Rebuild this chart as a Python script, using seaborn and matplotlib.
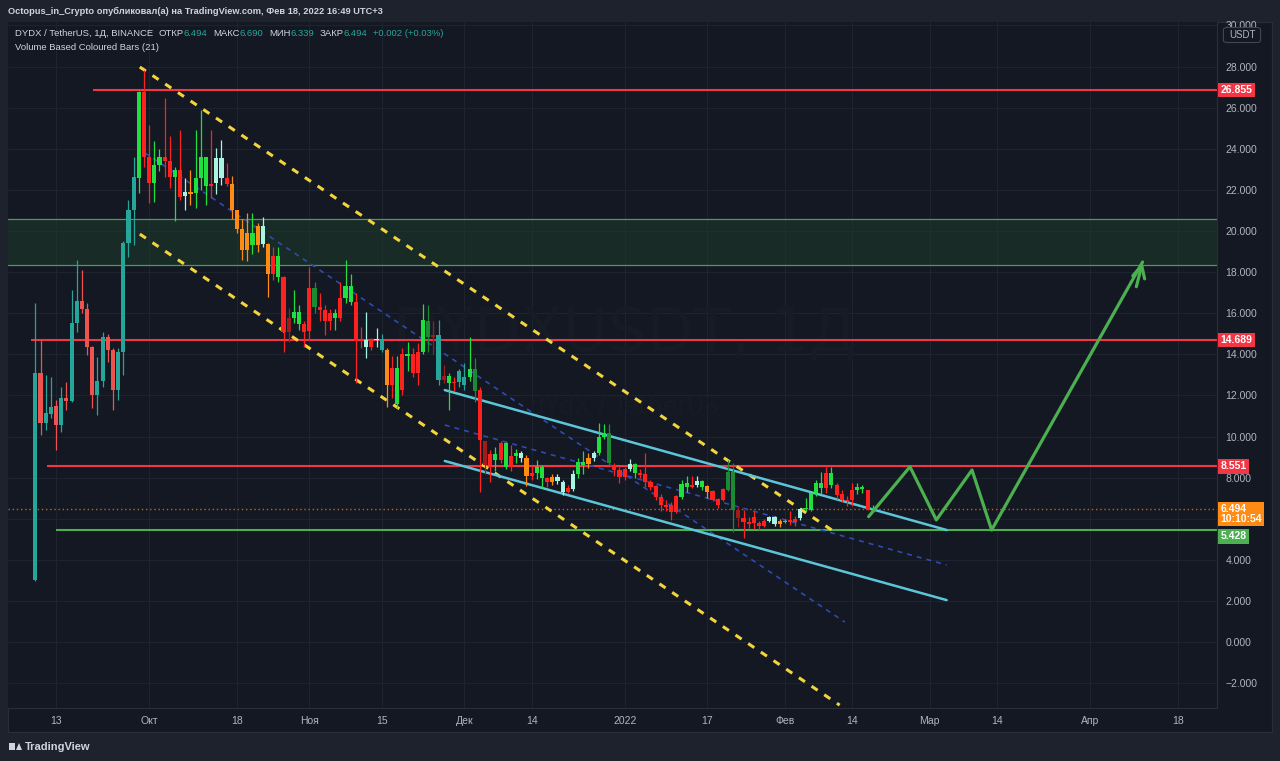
import matplotlib
matplotlib.use('Agg')
import matplotlib.pyplot as plt
import matplotlib.transforms as mtransforms
from matplotlib.patches import Rectangle, FancyBboxPatch
import numpy as np
import pandas as pd
import seaborn as sns

# daily candles DYDX/USDT from 2021-09-09
opens = [3.0, 13.1, 10.64, 11.1, 11.5, 10.56, 11.86, 11.75, 15.5, 16.6,
         16.2, 14.37, 12.0, 12.72, 14.83, 14.2, 12.26, 14.13, 19.4, 21.0,
         22.6, 26.75, 23.6, 22.32, 23.2, 23.6, 23.4, 22.64, 22.97, 21.7,
         21.9, 21.83, 22.56, 23.6, 22.2, 22.32, 23.57, 22.56, 22.27, 21.0,
         20.08, 19.1, 19.9, 19.32, 20.26, 19.35, 17.89, 18.78, 17.78, 15.07,
         15.75, 16.04, 15.46, 15.13, 17.21, 16.3, 16.16, 15.6, 16.0, 15.76,
         16.75, 17.3, 16.56, 14.65, 14.7, 14.37, 14.7, 14.75, 14.21, 12.5,
         13.35, 12.26, 14.0, 14.0, 13.08, 14.1, 15.6, 14.86, 14.93, 12.75,
         12.95, 12.6, 12.65, 12.5, 12.9, 13.28, 12.26, 9.78, 8.61, 9.15,
         8.86, 9.67, 8.53, 9.05, 9.2, 8.94, 8.08, 8.24, 8.53, 7.97,
         7.8, 7.85, 7.8, 7.31, 7.43, 8.18, 8.77, 8.65, 8.94, 9.18,
         10.0, 10.15, 8.61, 8.37, 8.05, 8.4, 8.66, 8.24, 8.2, 7.8,
         7.59, 7.04, 6.67, 6.67, 6.34, 7.04, 7.72, 7.56, 7.62, 7.83,
         7.59, 7.36, 6.94, 6.91, 7.4, 8.29, 6.42, 6.02, 5.85, 6.07,
         5.8, 5.64, 5.87, 6.07, 5.72, 5.9, 5.92, 5.82, 6.02, 6.46,
         6.42, 7.24, 7.72, 7.48, 8.21, 7.64, 7.18, 6.93, 6.91, 7.4,
         7.56, 7.4, 6.494]
highs = [16.5, 14.7, 13.0, 12.9, 11.78, 12.42, 12.67, 17.13, 18.59, 18.1,
         16.48, 14.4, 13.88, 15.1, 15.0, 14.3, 14.3, 19.5, 21.5, 23.6,
         26.8, 27.83, 25.16, 24.4, 24.0, 26.46, 24.6, 23.1, 24.9, 22.56,
         22.97, 24.9, 25.9, 23.6, 24.9, 24.02, 24.43, 23.3, 22.7, 21.0,
         20.6, 20.9, 20.9, 20.4, 20.7, 19.4, 19.2, 19.2, 17.8, 16.24,
         17.13, 16.4, 15.6, 18.26, 17.5, 16.97, 16.4, 16.2, 16.2, 17.53,
         18.59, 17.9, 17.0, 15.34, 16.07, 14.8, 15.3, 15.0, 14.3, 13.9,
         13.9, 14.3, 14.6, 14.3, 14.54, 16.43, 16.4, 15.6, 15.65, 13.5,
         13.1, 12.9, 13.3, 13.56, 14.86, 13.8, 12.4, 9.8, 9.35, 9.5,
         9.8, 9.75, 9.6, 9.4, 9.3, 9.1, 8.55, 8.85, 8.6, 8.05,
         8.2, 8.2, 7.9, 7.65, 8.35, 8.95, 9.3, 9.2, 9.3, 10.64,
         10.6, 10.6, 8.7, 8.5, 8.5, 8.9, 8.7, 8.4, 9.18, 7.9,
         7.65, 7.2, 6.9, 6.8, 7.15, 7.88, 8.1, 8.1, 8.1, 7.9,
         7.65, 7.4, 7.0, 7.5, 8.86, 8.7, 6.6, 6.42, 6.1, 6.4,
         5.9, 5.98, 6.15, 6.15, 5.98, 5.98, 6.36, 6.15, 6.5, 7.0,
         7.3, 7.9, 8.29, 8.53, 8.53, 7.72, 7.4, 7.1, 7.72, 7.72,
         7.64, 7.4, 6.69]
lows = [2.95, 10.07, 10.3, 10.88, 9.34, 10.23, 11.29, 11.7, 15.1, 16.0,
        13.97, 11.37, 11.05, 12.42, 13.64, 11.29, 11.78, 13.0, 18.75, 19.3,
        21.83, 23.13, 21.35, 21.4, 22.9, 22.64, 22.08, 20.5, 21.5, 21.0,
        21.27, 21.1, 22.0, 21.27, 21.6, 21.8, 22.24, 22.2, 20.6, 19.9,
        18.6, 18.55, 18.9, 19.0, 19.2, 16.8, 17.6, 17.5, 14.13, 14.6,
        15.5, 15.2, 14.37, 14.7, 16.0, 15.6, 14.94, 15.2, 15.2, 15.6,
        16.5, 16.4, 12.59, 14.3, 13.8, 14.2, 14.35, 14.1, 11.45, 11.86,
        11.4, 12.0, 13.2, 12.9, 12.5, 14.0, 14.1, 14.0, 12.5, 12.6,
        11.29, 12.2, 12.4, 12.25, 12.7, 11.7, 7.3, 8.2, 7.8, 8.3,
        8.7, 8.4, 8.3, 8.7, 8.75, 7.6, 7.9, 7.95, 7.48, 7.55,
        7.65, 7.7, 7.15, 7.25, 7.35, 8.0, 8.2, 8.45, 8.8, 9.1,
        9.9, 8.6, 8.1, 7.75, 7.9, 8.3, 8.0, 8.0, 7.55, 7.4,
        6.9, 6.4, 6.4, 5.94, 6.3, 6.95, 7.3, 7.5, 7.55, 7.4,
        7.0, 6.85, 6.5, 6.85, 7.35, 5.37, 5.6, 5.06, 5.55, 5.5,
        5.45, 5.6, 5.83, 5.65, 5.6, 5.78, 5.7, 5.65, 5.95, 6.4,
        6.4, 7.1, 7.2, 7.25, 7.5, 6.96, 6.82, 6.6, 6.6, 7.2,
        7.25, 6.42, 6.339]
closes = [13.1, 10.64, 11.13, 11.45, 10.56, 11.86, 11.75, 15.51, 16.61, 16.19,
          14.37, 12.02, 12.72, 14.83, 14.21, 12.26, 14.13, 19.4, 21.02, 22.61,
          26.75, 23.6, 22.32, 23.2, 23.58, 23.4, 22.64, 22.95, 21.64, 21.9,
          21.8, 22.56, 23.6, 22.2, 22.3, 23.57, 22.56, 22.3, 21.02, 20.08,
          19.1, 19.9, 19.32, 20.26, 19.35, 17.89, 18.78, 17.78, 15.07, 15.78,
          16.04, 15.46, 15.1, 17.21, 16.32, 16.16, 15.6, 16.0, 15.76, 16.75,
          17.3, 16.56, 14.65, 14.7, 14.37, 14.7, 14.75, 14.21, 12.5, 13.35,
          11.57, 14.0, 13.9, 13.08, 14.1, 15.67, 14.86, 14.93, 12.75, 12.95,
          12.6, 12.65, 13.2, 12.9, 13.28, 12.23, 9.83, 8.61, 9.15, 8.86,
          9.67, 8.53, 9.05, 9.2, 8.95, 8.08, 8.24, 8.53, 7.97, 7.8,
          8.03, 8.05, 7.31, 7.5, 8.18, 8.77, 8.6, 8.94, 9.18, 9.99,
          10.15, 8.7, 8.37, 8.05, 8.4, 8.66, 8.24, 8.13, 7.8, 7.56,
          7.04, 6.67, 6.55, 6.34, 7.1, 7.69, 7.56, 7.62, 7.83, 7.56,
          7.31, 6.91, 6.67, 7.43, 8.29, 6.42, 6.02, 5.85, 5.75, 5.77,
          5.64, 5.89, 6.07, 5.72, 5.9, 5.84, 5.82, 6.0, 6.46, 6.5,
          7.24, 7.72, 7.48, 8.21, 7.64, 7.15, 6.91, 6.85, 7.4, 7.56,
          7.45, 6.42, 6.494]
# volume based colour of each bar
bar_kinds = list('tsttststtsssttsstttt'
                 'grrggrrgrmogggrmmroo'
                 'oogomorgrRggrrGrrrgr'
                 'ggrrmrmtorgrgrrgGRtR'
                 'grttgGrRrgrgrgmorggr'
                 'ommrmggomggGrrrmgrrr'
                 'rrrrrggrmgorrrGGRrrr'
                 'rrmmogrrmggggrgrrrrg'
                 'grg')

kind_colors = {'t': '#26a69a', 's': '#ef5350', 'g': '#1fe03c', 'r': '#ff2020',
               'm': '#a8f5e2', 'o': '#ff8a14', 'R': '#a01c1c', 'G': '#1b8a35'}

start = pd.Timestamp('2021-09-09')
dates = pd.date_range(start, periods=len(opens), freq='D')
days = np.asarray((dates - start).days, dtype=float)

tick_dates = ['2021-09-13', '2021-10-01', '2021-10-18', '2021-11-01', '2021-11-15',
              '2021-12-01', '2021-12-14', '2022-01-01', '2022-01-17', '2022-02-01',
              '2022-02-14', '2022-03-01', '2022-03-14', '2022-04-01', '2022-04-18']
tick_labels = ['13', 'Окт', '18', 'Ноя', '15', 'Дек', '14', '2022', '17', 'Фев',
               '14', 'Мар', '14', 'Апр', '18']
price_ticks = [-2, 0, 2, 4, 6, 8, 10, 12, 14, 16, 18, 20, 22, 24, 26, 28, 30]
hidden_ticks = [6]  # covered by the last-price tag

# drawings: (day offset from start, price)
red_levels = [26.855, 14.689, 8.551]
red_level_from = [11.2, -0.8, 2.3]
support_level = 5.428
support_from = 4.0
zone_low, zone_high = 18.35, 20.58
last_price = 6.494
yellow_upper = ([20.2, 155.2], [27.98, 5.26])
yellow_lower = ([20.2, 155.6], [19.85, -3.07])
blue_dash_a = ([21.2, 156.6], [23.8, 0.97])
blue_dash_b = ([79.2, 176.3], [10.56, 3.75])
cyan_upper = ([79.2, 176.3], [12.26, 5.45])
cyan_lower = ([79.2, 176.3], [8.81, 2.04])
path_days = [161.2, 169.2, 174.3, 181.2, 185.0, 214.2]
path_prices = [6.1, 8.53, 5.94, 8.37, 5.45, 18.49]

BG = '#141823'
OUTER = '#1e222d'
GRID = '#1e2330'
TXT = '#b2b5be'

sns.set_theme(style='dark', rc={'axes.facecolor': BG, 'figure.facecolor': OUTER})
plt.rcParams['font.family'] = ['Liberation Sans', 'DejaVu Sans']

fig = plt.figure(figsize=(12.8, 7.61), dpi=100)
W, H = 1280, 761
fig.add_artist(Rectangle((8 / W, 1 - 732 / H), (1272 - 8) / W, (732 - 22) / H,
                         transform=fig.transFigure, facecolor=BG, edgecolor='#2a2e39',
                         lw=0.8, zorder=-5))
ax = fig.add_axes([8 / W, 1 - 708 / H, (1217 - 8) / W, (708 - 22) / H])
ax.set_facecolor(BG)

xmin, xmax = -5.3, 228.6
ax.set_xlim(xmin, xmax)
ax.set_ylim(-3.21, 30.17)

# grid
tick_pos = [(pd.Timestamp(d) - start).days for d in tick_dates]
for tp in tick_pos:
    ax.axvline(tp, color=GRID, lw=0.8, zorder=0)
for p in price_ticks:
    ax.axhline(p, color=GRID, lw=0.8, zorder=0)

# watermark
ax.text(0.51, 0.545, 'DYDXUSDT, 1Д', transform=ax.transAxes, ha='center', va='center',
        fontsize=44, color='#171b26', zorder=0.5, family=['DejaVu Sans'])
ax.text(0.51, 0.44, 'dYdX / TetherUS', transform=ax.transAxes, ha='center', va='center',
        fontsize=17, color='#171b26', zorder=0.5, family=['DejaVu Sans'])

# zone
ax.axhspan(zone_low, zone_high, color='#1d3b2a', alpha=0.55, lw=0, zorder=1)
ax.axhline(zone_low, color='#4e9a55', lw=0.9, zorder=1.2)
ax.axhline(zone_high, color='#4e9a55', lw=0.9, zorder=1.2)

# levels
for lv, x0 in zip(red_levels, red_level_from):
    ax.hlines(lv, x0, xmax, color='#f23645', lw=1.5, zorder=2)
ax.hlines(support_level, support_from, xmax, color='#4caf50', lw=1.5, zorder=2)
ax.axhline(last_price, color='#ff8a14', lw=1, ls=(0, (1, 2)), alpha=0.7, zorder=1.5)

# channels
for seg in (yellow_upper, yellow_lower):
    ax.plot(seg[0], seg[1], color='#f2d43c', lw=2.2, ls=(0, (2.4, 2.6)), zorder=2)
for seg in (blue_dash_a, blue_dash_b):
    ax.plot(seg[0], seg[1], color='#2d4bb0', lw=1.2, ls=(0, (3, 3)), zorder=2)
for seg in (cyan_upper, cyan_lower):
    ax.plot(seg[0], seg[1], color='#5cc6d8', lw=1.8, zorder=2)

# candles
o = np.array(opens); c = np.array(closes)
hi = np.array(highs); lo = np.array(lows)
cols = [kind_colors[k] for k in bar_kinds]
ax.vlines(days, lo, hi, colors=cols, lw=0.9, zorder=3)
body_low = np.minimum(o, c)
body_h = np.maximum(np.abs(c - o), 0.05)
ax.bar(days, body_h, bottom=body_low, width=0.8, color=cols, lw=0, zorder=4)

# projected path
path = pd.DataFrame({'day': path_days, 'price': path_prices})
sns.lineplot(data=path, x='day', y='price', sort=False, color='#4caf50', lw=2.3,
             ax=ax, zorder=5)
ax.annotate('', xy=(path_days[-1], path_prices[-1]),
            xytext=(path_days[-1] - 1.2, path_prices[-1] - 1.2),
            arrowprops=dict(arrowstyle='->', color='#4caf50', lw=2.3, mutation_scale=22,
                            shrinkA=0, shrinkB=0), zorder=5)

# axes styling
ax.set_xticks(tick_pos)
ax.set_xticklabels(tick_labels)
ax.set_yticks(price_ticks)
ax.set_yticklabels(['' if p in hidden_ticks else f'{p:.3f}'.replace('-', '\u2212')
                    for p in price_ticks])
ax.yaxis.tick_right()
ax.tick_params(axis='both', length=0, colors=TXT, labelsize=7.5)
ax.tick_params(axis='y', pad=6)
ax.tick_params(axis='x', pad=6)
ax.set_xlabel('')
ax.set_ylabel('')
for side in ('top', 'left'):
    ax.spines[side].set_visible(False)
for side in ('right', 'bottom'):
    ax.spines[side].set_color('#2a2e39')
    ax.spines[side].set_linewidth(0.8)
ax.grid(False)

# price labels on the scale
blend = mtransforms.blended_transform_factory(ax.transAxes, ax.transData)
def price_tag(val, text, fc, dy=0):
    ax.annotate(text, xy=(1, val), xycoords=blend, xytext=(2.5, dy),
                textcoords='offset points', ha='left', va='center', fontsize=7.5,
                color='white', fontweight='bold', annotation_clip=False, linespacing=1.0,
                bbox=dict(boxstyle='square,pad=0.22', fc=fc, ec='none'), zorder=10)
for lv in red_levels:
    price_tag(lv, f'{lv:.3f}', '#f23645')
price_tag(last_price, f'{last_price:.3f}\n10:10:54', '#ff8a14', dy=-3.8)
price_tag(support_level, f'{support_level:.3f}', '#4caf50', dy=-4.2)

fig.add_artist(FancyBboxPatch((1226 / W, 1 - 41 / H), 32 / W, 12 / H,
                              boxstyle='round,pad=0.002,rounding_size=0.003',
                              transform=fig.transFigure, fc=BG, ec='#434651', lw=0.8))
fig.text(1242 / W, 1 - 35 / H, 'USDT', ha='center', va='center', fontsize=7, color=TXT)
fig.add_artist(plt.Line2D([1272 / W, 1272 / W], [1 - 732 / H, 1 - 22 / H],
                          transform=fig.transFigure, color='#2a2e39', lw=0.8))

# header and legend
fig.text(8 / W, 1 - 11 / H, 'Octopus_in_Crypto опубликовал(а) на TradingView.com, '
         'Фев 18, 2022 16:49 UTC+3', ha='left', va='center', fontsize=6.7,
         color='#d1d4dc', fontweight='bold')
chunks = [('DYDX / TetherUS, 1Д, BINANCE', '#d1d4dc', 0), ('ОТКР', '#d1d4dc', 4),
          ('6.494', '#26a69a', 0), ('МАКС', '#d1d4dc', 4), ('6.690', '#26a69a', 0),
          ('МИН', '#d1d4dc', 4), ('6.339', '#26a69a', 0), ('ЗАКР', '#d1d4dc', 4),
          ('6.494', '#26a69a', 0), ('+0.002 (+0.03%)', '#26a69a', 4)]
prev = fig.text(15 / W, 1 - 33 / H, chunks[0][0], ha='left', va='center',
                fontsize=6.8, color=chunks[0][1])
for txt, col, gap in chunks[1:]:
    prev = ax.annotate(txt, xy=(1, 0.5), xycoords=prev, xytext=(gap, 0),
                       textcoords='offset points', ha='left', va='center', fontsize=6.8,
                       color=col, annotation_clip=False)
fig.text(15 / W, 1 - 48 / H, 'Volume Based Coloured Bars (21)', ha='left', va='center',
         fontsize=6.8, color='#d1d4dc')

# footer logo
fig.add_artist(Rectangle((9 / W, 1 - 750 / H), 6 / W, 7 / H, transform=fig.transFigure,
                         fc='#d1d4dc', ec='none'))
fig.add_artist(plt.Polygon([[16 / W, 1 - 750 / H], [19 / W, 1 - 743 / H],
                            [22 / W, 1 - 750 / H]], closed=True,
                           transform=fig.transFigure, fc='#d1d4dc', ec='none'))
fig.text(25 / W, 1 - 746.5 / H, 'TradingView', ha='left', va='center', fontsize=8,
         color='#d1d4dc', fontweight='bold')

fig.savefig('out.png', dpi=100, facecolor=OUTER)
